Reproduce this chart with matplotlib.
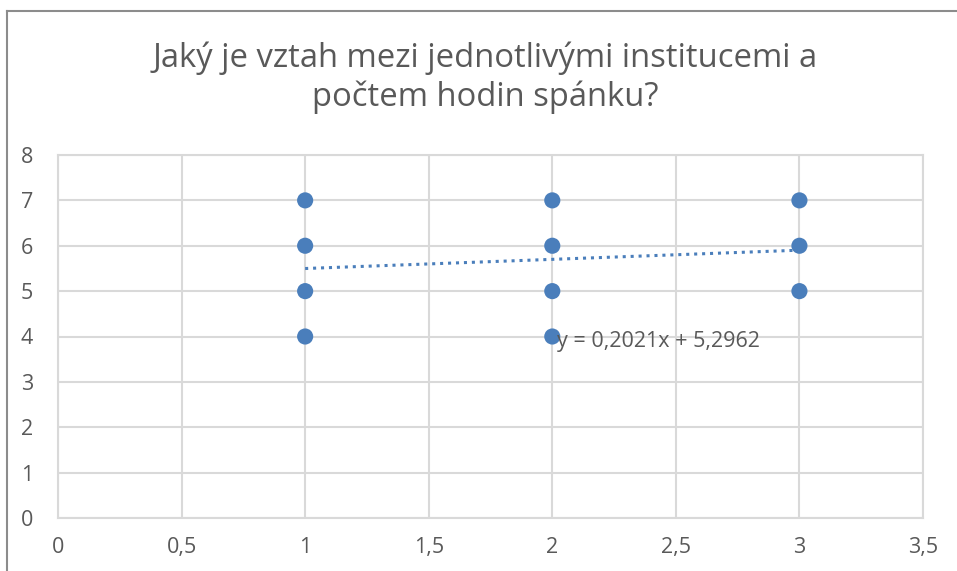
import matplotlib.pyplot as plt
import numpy as np

# data
x_vals = [1, 1, 1, 1, 2, 2, 2, 2, 3, 3, 3]
y_vals = [4, 5, 6, 7, 4, 5, 6, 7, 5, 6, 7]
slope = 0.2021
intercept = 5.2962
x_ticks = [0, 0.5, 1, 1.5, 2, 2.5, 3, 3.5]
y_ticks = [0, 1, 2, 3, 4, 5, 6, 7, 8]
title = "Jaký je vztah mezi jednotlivými institucemi a\npočtem hodin spánku?"

blue = '#4a7ebb'
gray_txt = '#595959'
grid_col = '#d9d9d9'

plt.rcParams['font.family'] = ['Open Sans', 'DejaVu Sans']

fig = plt.figure(figsize=(9.57, 5.71), dpi=100)
ax = fig.add_axes([58 / 957, 1 - 518 / 571, (923 - 58) / 957, (518 - 155) / 571])

# chart border (left and top visible in the crop)
fig.add_artist(plt.Line2D([7 / 957, 7 / 957], [0, 1 - 11 / 571], color='#8c8c8c', lw=1.5))
fig.add_artist(plt.Line2D([7 / 957, 1], [1 - 11 / 571, 1 - 11 / 571], color='#8c8c8c', lw=1.5))

ax.set_xlim(0, 3.5)
ax.set_ylim(0, 8)
ax.set_xticks(x_ticks)
ax.set_yticks(y_ticks)
ax.set_xticklabels([f"{t:g}".replace('.', ',') for t in x_ticks])
ax.set_yticklabels([str(t) for t in y_ticks])
ax.tick_params(length=0, labelsize=15.5, colors=gray_txt)
ax.tick_params(axis='y', pad=18)
ax.tick_params(axis='x', pad=14)
ax.grid(True, color=grid_col, lw=1.5)
ax.set_axisbelow(True)
for s in ax.spines.values():
    s.set_color(grid_col)
    s.set_linewidth(1.5)

ax.scatter(x_vals, y_vals, s=135, color=blue, zorder=3, edgecolors='none')

tx = np.array([min(x_vals), max(x_vals)])
ax.plot(tx, slope * tx + intercept, color=blue, lw=2.2, ls=(0, (1, 1.6)), zorder=2)

label = f"y = {slope:.4f}x + {intercept:.4f}".replace('.', ',')
ax.text(2.02, 3.9, label, fontsize=15.5, color=gray_txt, va='center', ha='left', zorder=4)

fig.text(485 / 957, 1 - 78 / 571, title, ha='center', va='center', fontsize=23.6,
         color=gray_txt, linespacing=1.2)

fig.savefig('out.png', dpi=100)
